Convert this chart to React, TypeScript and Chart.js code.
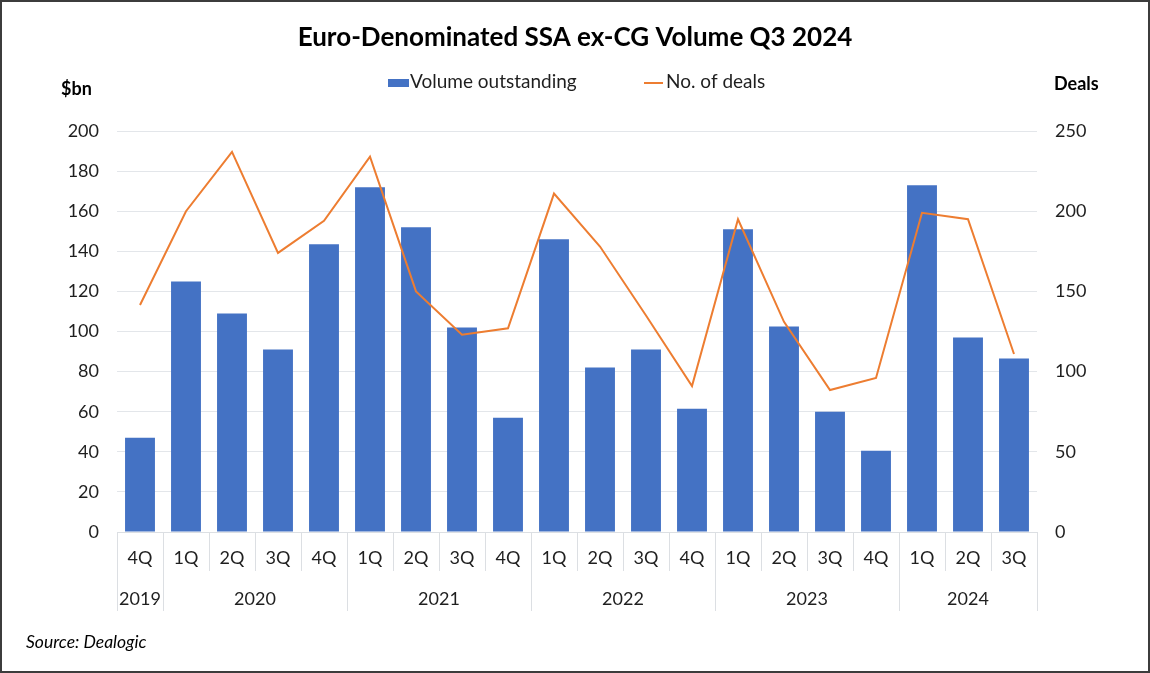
import React, { useEffect, useRef } from "react";
import { Chart, registerables } from "chart.js";

Chart.register(...registerables);

const chartTitle = "Euro-Denominated SSA ex-CG Volume Q3 2024";
const sourceNote = "Source: Dealogic";
const leftAxisTitle = "$bn";
const rightAxisTitle = "Deals";

const quarterLabels = ["4Q", "1Q", "2Q", "3Q", "4Q", "1Q", "2Q", "3Q", "4Q", "1Q", "2Q", "3Q", "4Q", "1Q", "2Q", "3Q", "4Q", "1Q", "2Q", "3Q"];
const yearLabels = ["2019", "2020", "2020", "2020", "2020", "2021", "2021", "2021", "2021", "2022", "2022", "2022", "2022", "2023", "2023", "2023", "2023", "2024", "2024", "2024"];

const volumeOutstanding = [47, 125, 109, 91, 143.5, 172, 152, 102, 57, 146, 82, 91, 61.5, 151, 102.5, 60, 40.5, 173, 97, 86.5];
const numberOfDeals = [141.5, 200, 237, 174, 194, 234, 150, 123, 127, 211, 178, 135, 91, 195, 131, 88.5, 96, 199, 195, 111];

const leftAxisMax = 200;
const leftAxisStep = 20;
const rightAxisMax = 250;
const rightAxisStep = 50;

const BAR_COLOR = "#4472C4";
const LINE_COLOR = "#ED7D31";
const TEXT_COLOR = "#1f1f1f";
const GRID_COLOR = "#e3e6ea";
const SEP_COLOR = "#dcdfe3";
const FONT = "Lato";

const decorPlugin = {
  id: "decor",
  afterDraw(chart: any) {
    const { ctx, chartArea } = chart;
    const x = chart.scales.x;
    const n = quarterLabels.length;
    const step = x.getPixelForValue(1) - x.getPixelForValue(0);
    const half = step / 2;
    ctx.save();
    // separators
    ctx.strokeStyle = SEP_COLOR;
    ctx.lineWidth = 1;
    for (let i = 0; i <= n; i++) {
      const px = i < n ? x.getPixelForValue(i) - half : x.getPixelForValue(n - 1) + half;
      const isYear = i === 0 || i === n || yearLabels[i] !== yearLabels[i - 1];
      ctx.beginPath();
      ctx.moveTo(Math.round(px) + 0.5, chartArea.bottom);
      ctx.lineTo(Math.round(px) + 0.5, isYear ? 611 : 571);
      ctx.stroke();
    }
    // year labels
    ctx.fillStyle = TEXT_COLOR;
    ctx.font = `18px ${FONT}`;
    ctx.textAlign = "center";
    ctx.textBaseline = "middle";
    let start = 0;
    for (let i = 1; i <= n; i++) {
      if (i === n || yearLabels[i] !== yearLabels[start]) {
        const cx = (x.getPixelForValue(start) + x.getPixelForValue(i - 1)) / 2;
        ctx.fillText(yearLabels[start], cx, 599);
        start = i;
      }
    }
    // axis titles
    ctx.font = `bold 18px ${FONT}`;
    ctx.textAlign = "left";
    ctx.textBaseline = "alphabetic";
    ctx.fillStyle = "#000";
    ctx.fillText(leftAxisTitle, 61, 95);
    ctx.fillText(rightAxisTitle, 1054, 90);
    // source
    ctx.font = `italic 17.5px ${FONT}`;
    ctx.fillStyle = "#000";
    ctx.fillText(sourceNote, 26, 648);
    // legend
    const ds = chart.data.datasets;
    ctx.font = `19px ${FONT}`;
    ctx.fillStyle = BAR_COLOR;
    ctx.fillRect(388, 79, 21, 8);
    ctx.fillStyle = TEXT_COLOR;
    ctx.fillText(ds[0].label, 410, 88);
    ctx.strokeStyle = LINE_COLOR;
    ctx.lineWidth = 2;
    ctx.beginPath();
    ctx.moveTo(644, 83);
    ctx.lineTo(663, 83);
    ctx.stroke();
    ctx.fillText(ds[1].label, 666, 88);
    ctx.restore();
  },
};

export default function App() {
  const canvasRef = useRef<HTMLCanvasElement | null>(null);

  useEffect(() => {
    const canvas = canvasRef.current;
    if (!canvas) return;
    const chart = new Chart(canvas, {
      type: "bar",
      data: {
        labels: quarterLabels,
        datasets: [
          {
            type: "bar",
            label: "Volume outstanding",
            data: volumeOutstanding,
            backgroundColor: BAR_COLOR,
            borderWidth: 0,
            categoryPercentage: 1,
            barPercentage: 0.65,
            yAxisID: "y",
            order: 2,
          },
          {
            type: "line",
            label: "No. of deals",
            data: numberOfDeals,
            borderColor: LINE_COLOR,
            backgroundColor: LINE_COLOR,
            borderWidth: 2,
            pointRadius: 0,
            tension: 0,
            fill: false,
            yAxisID: "y2",
            order: 1,
          },
        ],
      } as any,
      options: {
        responsive: false,
        animation: false,
        layout: { padding: 0 },
        plugins: {
          legend: { display: false },
          tooltip: { enabled: false },
          title: {
            display: true,
            text: chartTitle,
            color: "#000",
            font: { family: FONT, size: 26, weight: "bold", lineHeight: 1.2 },
            padding: { top: 22, bottom: 77.8 },
          },
        },
        scales: {
          x: {
            type: "category",
            offset: true,
            grid: { display: false, drawTicks: false },
            border: { display: true, color: SEP_COLOR },
            ticks: {
              color: TEXT_COLOR,
              font: { family: FONT, size: 18 },
              padding: 15,
              maxRotation: 0,
              autoSkip: false,
            },
            afterFit: (s: any) => {
              s.height = 141;
            },
          },
          y: {
            position: "left",
            min: 0,
            max: leftAxisMax,
            ticks: {
              stepSize: leftAxisStep,
              color: TEXT_COLOR,
              font: { family: FONT, size: 18 },
              padding: 18,
            },
            grid: { color: GRID_COLOR, drawTicks: false },
            border: { display: false },
            afterFit: (s: any) => {
              s.width = 117;
            },
          },
          y2: {
            position: "right",
            min: 0,
            max: rightAxisMax,
            ticks: {
              stepSize: rightAxisStep,
              color: TEXT_COLOR,
              font: { family: FONT, size: 18 },
              padding: 18,
            },
            grid: { display: false, drawTicks: false },
            border: { display: false },
            afterFit: (s: any) => {
              s.width = 113;
            },
          },
        },
      } as any,
      plugins: [decorPlugin],
    });
    return () => chart.destroy();
  }, []);

  return (
    <div
      style={{
        position: "absolute",
        left: 0,
        top: 0,
        width: 1150,
        height: 673,
        background: "#fff",
      }}
    >
      <canvas ref={canvasRef} width={1150} height={673} style={{ display: "block" }} />
      <div
        style={{
          position: "absolute",
          left: 0,
          top: 0,
          width: 1150,
          height: 673,
          border: "2px solid #3c3c3c",
          boxSizing: "border-box",
          pointerEvents: "none",
        }}
      />
    </div>
  );
}
